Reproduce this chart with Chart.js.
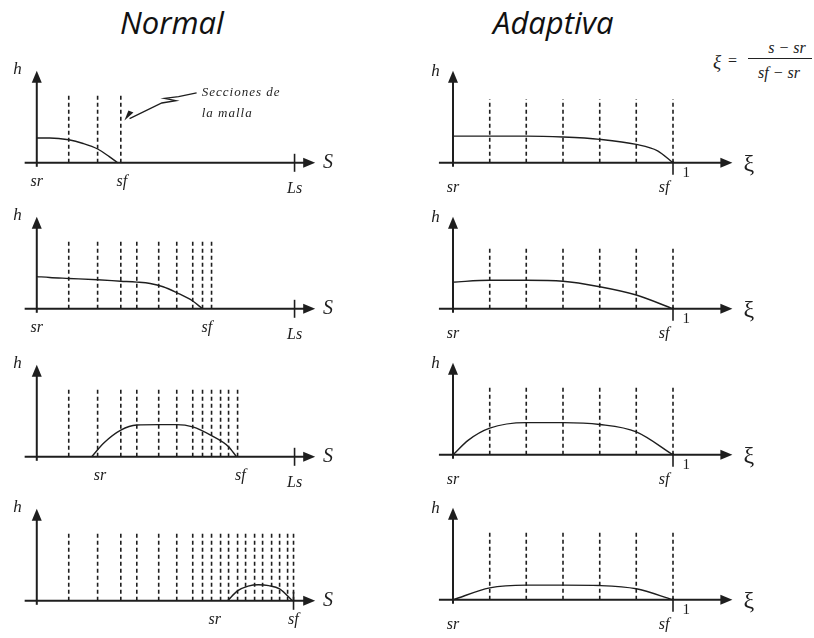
<!DOCTYPE html>
<html lang="es">
<head>
  <meta charset="UTF-8">
  <title>Malla normal y adaptiva</title>
  <script src="https://cdn.jsdelivr.net/npm/chart.js"></script>
  <style>
    body {
      margin: 0;
      background: #fff;
      width: 814px;
      height: 638px;
      position: relative;
      overflow: hidden;
    }
    .title {
      position: absolute;
      top: 7px;
      font-family: "Open Sans", sans-serif;
      font-style: italic;
      font-size: 31px;
      line-height: 31px;
      color: #111;
    }
    canvas { position: absolute; }
    .formula {
      position: absolute;
      font-family: "Liberation Serif", serif;
      font-style: italic;
      font-size: 16px;
      color: #222;
      line-height: 1;
      text-align: center;
    }
  </style>
</head>
<body>
  <div class="title" style="left:120px">Normal</div>
  <div class="title" style="left:493px">Adaptiva</div>

  <!-- xi = (s - sr) / (sf - sr) -->
  <div class="formula" style="left:713px; top:52px; font-size:19px">ξ</div>
  <div class="formula" style="left:728px; top:53px; font-style:normal">=</div>
  <div class="formula" style="left:748px; top:40px; width:78px">s − sr</div>
  <div class="formula" style="left:748px; top:58px; width:64px; border-top:1px solid #222"></div>
  <div class="formula" style="left:748px; top:65px; width:62px">sf − sr</div>

  <canvas id="n1" width="348" height="138" style="left:11px; top:57px"></canvas>
  <canvas id="n2" width="348" height="138" style="left:11px; top:203px"></canvas>
  <canvas id="n3" width="348" height="138" style="left:11px; top:351px"></canvas>
  <canvas id="n4" width="348" height="138" style="left:11px; top:495px"></canvas>
  <canvas id="a1" width="396" height="138" style="left:409px; top:57px"></canvas>
  <canvas id="a2" width="396" height="138" style="left:409px; top:203px"></canvas>
  <canvas id="a3" width="396" height="138" style="left:409px; top:349px"></canvas>
  <canvas id="a4" width="396" height="138" style="left:409px; top:494px"></canvas>

  <script>
    // ---- data ----
    // Normal grid: S from sr (0) to Ls (10)
    const normalMesh = [
      [1.24, 2.36, 3.26],
      [1.24, 2.36, 3.26, 3.88, 4.73, 5.43, 6.05, 6.43, 6.78],
      [1.24, 2.36, 3.26, 3.88, 4.73, 5.43, 6.05, 6.43, 6.78, 7.13, 7.44, 7.79],
      [1.24, 2.36, 3.26, 3.88, 4.73, 5.43, 6.05, 6.43, 6.78, 7.13, 7.44, 7.79,
       8.10, 8.45, 8.76, 9.11, 9.42, 9.73, 9.96]
    ];
    const normalMeshTop = [7.6, 7.4, 7.5, 7.4];
    const normalCurves = [
      [[0, 2.7], [0.5, 2.7], [1.24, 2.5], [1.8, 2.1], [2.36, 1.5], [2.8, 0.7], [3.14, 0]],
      [[0, 3.5], [0.5, 3.4], [1.24, 3.3], [2.36, 3.15], [3.26, 3.0], [3.88, 2.9],
       [4.4, 2.75], [4.9, 2.4], [5.43, 1.75], [6.05, 0.85], [6.43, 0]],
      [[2.13, 0], [2.6, 1.5], [3.26, 2.9], [3.88, 3.45], [4.73, 3.5], [5.43, 3.5],
       [6.05, 3.25], [6.78, 2.3], [7.44, 1.1], [7.75, 0]],
      [[7.4, 0], [7.8, 1.1], [8.2, 1.6], [8.6, 1.75], [9.0, 1.65], [9.42, 1.3], [9.92, 0]]
    ];
    const normalSrLabelX = [0, 0, 2.45, 6.9];
    const normalSfLabelX = [3.3, 6.6, 7.9, 9.95];
    const normalShowLs = [true, true, true, false];
    const lsValue = 10;

    // Adaptive grid: xi from 0 to 1
    const adaptMesh = [0.167, 0.333, 0.5, 0.667, 0.833, 1];
    const adaptMeshTop = [6.9, 6.8, 7.4, 7.3];
    const adaptCurves = [
      [[0, 2.9], [0.167, 2.9], [0.333, 2.9], [0.5, 2.8], [0.667, 2.55], [0.833, 2.0], [0.93, 1.3], [1, 0]],
      [[0, 2.9], [0.167, 3.1], [0.333, 3.1], [0.5, 3.0], [0.667, 2.4], [0.833, 1.5], [1, 0]],
      [[0, 0], [0.07, 1.6], [0.167, 2.9], [0.333, 3.5], [0.5, 3.5], [0.667, 3.3], [0.833, 2.5], [1, 0]],
      [[0, 0], [0.167, 1.3], [0.333, 1.6], [0.5, 1.6], [0.667, 1.55], [0.833, 1.2], [1, 0]]
    ];

    const ink = '#1e1e1e';
    const serif = '"Liberation Serif", "DejaVu Serif", serif';

    // axes with arrows, ticks and italic labels
    const diagramPlugin = {
      id: 'diagram',
      afterDatasetsDraw(chart, args, o) {
        const { ctx, scales: { x, y } } = chart;
        const X = v => x.getPixelForValue(v);
        const Y = v => y.getPixelForValue(v);
        const y0 = Y(0), x0 = X(0);
        ctx.save();
        ctx.strokeStyle = ink;
        ctx.fillStyle = ink;
        ctx.lineWidth = 2;

        // horizontal axis
        const xe = X(o.axisTo);
        ctx.beginPath();
        ctx.moveTo(X(o.axisFrom), y0);
        ctx.lineTo(xe - 8, y0);
        ctx.stroke();
        ctx.beginPath();
        ctx.moveTo(xe, y0);
        ctx.lineTo(xe - 12, y0 - 5);
        ctx.lineTo(xe - 12, y0 + 5);
        ctx.closePath();
        ctx.fill();

        // vertical axis
        const yt = Y(10);
        ctx.beginPath();
        ctx.moveTo(x0, y0 + 4);
        ctx.lineTo(x0, yt + 8);
        ctx.stroke();
        ctx.beginPath();
        ctx.moveTo(x0, yt);
        ctx.lineTo(x0 - 5, yt + 12);
        ctx.lineTo(x0 + 5, yt + 12);
        ctx.closePath();
        ctx.fill();

        // ticks
        ctx.lineWidth = 1.6;
        (o.ticks || []).forEach(t => {
          ctx.beginPath();
          ctx.moveTo(X(t.at), y0 + t.from);
          ctx.lineTo(X(t.at), y0 + t.to);
          ctx.stroke();
        });

        // labels
        ctx.textAlign = 'center';
        ctx.textBaseline = 'middle';
        (o.labels || []).forEach(l => {
          ctx.font = (l.upright ? '' : 'italic ') + l.size + 'px ' + serif;
          ctx.fillText(l.text, X(l.x), y0 + l.dy);
        });

        // "Secciones de la malla" note with lightning arrow
        if (o.note) {
          ctx.textAlign = 'left';
          ctx.font = 'italic 13px ' + serif;
          ctx.letterSpacing = '1px';
          ctx.fillText('Secciones de', X(6.4), Y(7.6));
          ctx.fillText('la malla', X(6.4), Y(5.4));
          ctx.lineWidth = 1.3;
          ctx.beginPath();
          const pts = [[6.2, 7.6], [5.5, 7.2], [4.95, 7.0], [5.4, 6.75], [4.85, 6.5], [3.6, 4.8]];
          pts.forEach((p, i) => i ? ctx.lineTo(X(p[0]), Y(p[1])) : ctx.moveTo(X(p[0]), Y(p[1])));
          ctx.stroke();
          const tx = X(3.4), ty = Y(4.6);
          ctx.beginPath();
          ctx.moveTo(tx, ty);
          ctx.lineTo(tx + 9, ty - 8);
          ctx.lineTo(tx + 4, ty - 10);
          ctx.closePath();
          ctx.fill();
        }
        ctx.restore();
      }
    };

    function makePanel(id, mesh, meshTop, curve, range, diagram) {
      const datasets = mesh.map(v => ({
        data: [{ x: v, y: 0 }, { x: v, y: meshTop }],
        borderColor: ink,
        borderWidth: 1.6,
        borderDash: [4, 3],
        pointRadius: 0
      }));
      datasets.push({
        data: curve.map(p => ({ x: p[0], y: p[1] })),
        borderColor: ink,
        borderWidth: 1.4,
        cubicInterpolationMode: 'monotone',
        pointRadius: 0
      });
      return new Chart(document.getElementById(id), {
        type: 'line',
        data: { datasets },
        options: {
          responsive: false,
          animation: false,
          layout: { padding: 0 },
          scales: {
            x: { type: 'linear', display: false, min: range[0], max: range[1] },
            y: { type: 'linear', display: false, min: -3.5, max: 11.5 }
          },
          plugins: {
            legend: { display: false },
            tooltip: { enabled: false },
            diagram
          }
        },
        plugins: [diagramPlugin]
      });
    }

    // Normal panels
    ['n1', 'n2', 'n3', 'n4'].forEach((id, i) => {
      const labels = [
        { text: 'h', x: -0.75, dy: -93, size: 17 },
        { text: 'S', x: 11.3, dy: 0, size: 20 },
        { text: 'sr', x: normalSrLabelX[i], dy: 19, size: 16 },
        { text: 'sf', x: normalSfLabelX[i], dy: 19, size: 16 }
      ];
      if (normalShowLs[i]) labels.push({ text: 'Ls', x: lsValue, dy: 26, size: 16 });
      makePanel(id, normalMesh[i], normalMeshTop[i], normalCurves[i], [-1, 12.5], {
        axisFrom: -0.47,
        axisTo: 10.8,
        ticks: [{ at: normalShowLs[i] ? lsValue : 9.96, from: -9, to: 9 }],
        labels,
        note: i === 0
      });
    });

    // Adaptive panels
    ['a1', 'a2', 'a3', 'a4'].forEach((id, i) => {
      makePanel(id, adaptMesh, adaptMeshTop[i], adaptCurves[i], [-0.2, 1.6], {
        axisFrom: -0.064,
        axisTo: 1.27,
        ticks: [{ at: 1, from: -2, to: 12 }],
        labels: [
          { text: 'h', x: -0.08, dy: -91, size: 17 },
          { text: 'ξ', x: 1.345, dy: 2, size: 24, upright: true },
          { text: 'sr', x: 0, dy: 25, size: 16 },
          { text: 'sf', x: 0.96, dy: 25, size: 16 },
          { text: '1', x: 1.06, dy: 10, size: 15, upright: true }
        ]
      });
    });
  </script>
</body>
</html>
